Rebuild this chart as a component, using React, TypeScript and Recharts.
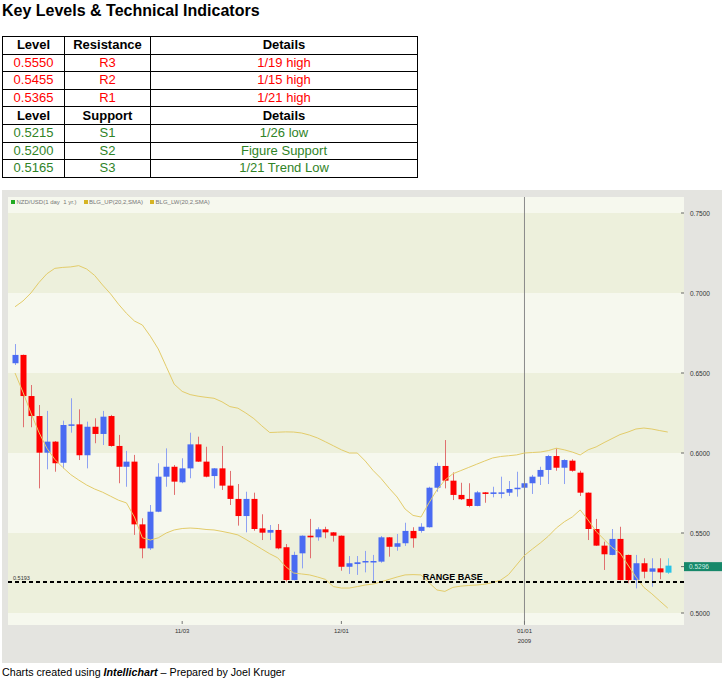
import React from 'react';
import { ComposedChart, Bar, Line, XAxis, YAxis, ReferenceArea, ReferenceLine, ReferenceDot } from 'recharts';

// ---- Key levels table ----
const resLevels = ['0.5550', '0.5455', '0.5365'];
const resNames = ['R3', 'R2', 'R1'];
const resDetails = ['1/19 high', '1/15 high', '1/21 high'];
const supLevels = ['0.5215', '0.5200', '0.5165'];
const supNames = ['S1', 'S2', 'S3'];
const supDetails = ['1/26 low', 'Figure Support', '1/21 Trend Low'];

// ---- NZD/USD daily candles ----
const openP = [
  0.6561, 0.6613, 0.6356, 0.6231, 0.6002, 0.6071, 0.5939, 0.6171, 0.6179, 0.5986,
  0.6164, 0.6119, 0.6231, 0.6044, 0.5914, 0.5946, 0.5554, 0.5404, 0.5633, 0.5852,
  0.5914, 0.5817, 0.5904, 0.6054, 0.5946, 0.5856, 0.5904, 0.5796, 0.5713, 0.5606,
  0.5713, 0.5529, 0.5502, 0.5519, 0.5411, 0.5206, 0.5373, 0.5483, 0.5473, 0.5523,
  0.5504, 0.5483, 0.5289, 0.5306, 0.5317, 0.5317, 0.5321, 0.5473, 0.5414, 0.5436,
  0.5513, 0.5513, 0.5536, 0.5783, 0.5919, 0.5827, 0.5738, 0.5713, 0.5669, 0.5754,
  0.5744, 0.5748, 0.5752, 0.5775, 0.5783, 0.5811, 0.5852, 0.5894, 0.5981, 0.5908,
  0.5952, 0.5877, 0.5752, 0.5525, 0.5421, 0.5363, 0.5463, 0.5363, 0.5206, 0.5311,
  0.5258, 0.5279, 0.5252,
];
const highP = [
  0.6681, 0.6615, 0.6425, 0.6300, 0.6263, 0.6075, 0.6202, 0.6342, 0.6273, 0.6196,
  0.6217, 0.6263, 0.6238, 0.6113, 0.6013, 0.5988, 0.5592, 0.5675, 0.5936, 0.6029,
  0.5925, 0.5967, 0.6127, 0.6102, 0.6039, 0.5906, 0.6044, 0.5888, 0.5806, 0.5758,
  0.5752, 0.5617, 0.5550, 0.5556, 0.5431, 0.5383, 0.5485, 0.5588, 0.5536, 0.5539,
  0.5506, 0.5485, 0.5356, 0.5356, 0.5388, 0.5363, 0.5481, 0.5475, 0.5494, 0.5564,
  0.5536, 0.5561, 0.5789, 0.5939, 0.6081, 0.5879, 0.5814, 0.5811, 0.5763, 0.5756,
  0.5789, 0.5852, 0.5825, 0.5883, 0.5873, 0.5863, 0.5914, 0.5988, 0.6029, 0.5961,
  0.5961, 0.5889, 0.5754, 0.5588, 0.5446, 0.5525, 0.5539, 0.5365, 0.5363, 0.5342,
  0.5342, 0.5342, 0.5342,
];
const lowP = [
  0.6550, 0.6161, 0.6161, 0.5779, 0.5898, 0.5883, 0.5904, 0.6127, 0.5956, 0.5904,
  0.6061, 0.6050, 0.6039, 0.5811, 0.5789, 0.5488, 0.5342, 0.5394, 0.5630, 0.5789,
  0.5738, 0.5811, 0.5842, 0.5944, 0.5848, 0.5779, 0.5769, 0.5675, 0.5546, 0.5504,
  0.5514, 0.5456, 0.5456, 0.5398, 0.5196, 0.5204, 0.5279, 0.5342, 0.5452, 0.5467,
  0.5446, 0.5264, 0.5244, 0.5238, 0.5254, 0.5196, 0.5314, 0.5352, 0.5389, 0.5419,
  0.5408, 0.5502, 0.5534, 0.5758, 0.5779, 0.5706, 0.5706, 0.5661, 0.5667, 0.5689,
  0.5723, 0.5717, 0.5731, 0.5727, 0.5748, 0.5744, 0.5800, 0.5806, 0.5889, 0.5806,
  0.5883, 0.5731, 0.5456, 0.5419, 0.5269, 0.5361, 0.5204, 0.5186, 0.5154, 0.5217,
  0.5164, 0.5211, 0.5244,
];
const closeP = [
  0.6613, 0.6356, 0.6231, 0.6002, 0.6071, 0.5936, 0.6175, 0.6179, 0.5986, 0.6164,
  0.6119, 0.6227, 0.6044, 0.5914, 0.5946, 0.5554, 0.5404, 0.5633, 0.5852, 0.5914,
  0.5821, 0.5904, 0.6054, 0.5946, 0.5852, 0.5904, 0.5796, 0.5713, 0.5606, 0.5713,
  0.5525, 0.5502, 0.5519, 0.5404, 0.5206, 0.5363, 0.5483, 0.5473, 0.5523, 0.5504,
  0.5483, 0.5289, 0.5311, 0.5317, 0.5325, 0.5325, 0.5473, 0.5414, 0.5436, 0.5513,
  0.5467, 0.5539, 0.5783, 0.5919, 0.5827, 0.5738, 0.5711, 0.5669, 0.5754, 0.5744,
  0.5754, 0.5754, 0.5775, 0.5783, 0.5811, 0.5852, 0.5894, 0.5981, 0.5908, 0.5956,
  0.5889, 0.5752, 0.5525, 0.5421, 0.5367, 0.5463, 0.5206, 0.5206, 0.5311, 0.5258,
  0.5279, 0.5254, 0.5296,
];

// ---- Bollinger bands (20,2,SMA) ----
const upperBand = [
  0.6914, 0.6950, 0.7000, 0.7065, 0.7120, 0.7154, 0.7160, 0.7163, 0.7171, 0.7150,
  0.7110, 0.7050, 0.6995, 0.6930, 0.6873, 0.6825, 0.6800, 0.6730, 0.6650, 0.6540,
  0.6430, 0.6385, 0.6365, 0.6355, 0.6348, 0.6342, 0.6320, 0.6290, 0.6280, 0.6250,
  0.6215, 0.6170, 0.6128, 0.6130, 0.6132, 0.6131, 0.6125, 0.6112, 0.6094, 0.6070,
  0.6045, 0.6020, 0.6000, 0.6000, 0.5950, 0.5890, 0.5840, 0.5780, 0.5725, 0.5650,
  0.5610, 0.5600, 0.5688, 0.5769, 0.5830, 0.5870, 0.5890, 0.5910, 0.5930, 0.5950,
  0.5969, 0.5978, 0.5983, 0.5988, 0.6000, 0.6003, 0.6006, 0.6015, 0.6030, 0.6020,
  0.6006, 0.5988, 0.6020, 0.6038, 0.6065, 0.6090, 0.6115, 0.6131, 0.6150, 0.6156,
  0.6150, 0.6140, 0.6131,
];
const lowerBand = [
  0.6500, 0.6380, 0.6250, 0.6130, 0.6030, 0.5960, 0.5910, 0.5865, 0.5831, 0.5800,
  0.5775, 0.5755, 0.5730, 0.5705, 0.5688, 0.5600, 0.5470, 0.5456, 0.5470, 0.5500,
  0.5519, 0.5528, 0.5531, 0.5528, 0.5522, 0.5519, 0.5510, 0.5500, 0.5488, 0.5460,
  0.5430, 0.5400, 0.5370, 0.5345, 0.5290, 0.5250, 0.5244, 0.5238, 0.5225, 0.5210,
  0.5165, 0.5156, 0.5156, 0.5165, 0.5175, 0.5181, 0.5195, 0.5210, 0.5225, 0.5238,
  0.5240, 0.5238, 0.5190, 0.5144, 0.5135, 0.5160, 0.5168, 0.5172, 0.5175, 0.5180,
  0.5190, 0.5205, 0.5240, 0.5300, 0.5360, 0.5400, 0.5438, 0.5480, 0.5531, 0.5570,
  0.5600, 0.5644, 0.5581, 0.5510, 0.5460, 0.5410, 0.5375, 0.5300, 0.5225, 0.5160,
  0.5120, 0.5075, 0.5031,
];

// ---- axes / annotations ----
const xTickIdx = [21, 41, 64];
const xTickLabels = ['11/03', '12/01', '01/01'];
const xTickYear = ['', '', '2009'];
const yTicks = [0.5, 0.55, 0.6, 0.65, 0.7, 0.75];
const shadedBands = [
  [0.7, 0.75],
  [0.6, 0.65],
  [0.5, 0.55],
];
const yDomain = [0.4925, 0.76];
const xDomain = [-0.88, 84.04];
const rangeBase = 0.5193;
const rangeBaseText = 'RANGE BASE';
const rangeBaseTextIdx = 55;
const lastPrice = 0.5296;
const yearLineIdx = 64;

const data = closeP.map((c, i) => ({
  idx: i,
  open: openP[i],
  high: highP[i],
  low: lowP[i],
  close: c,
  range: [lowP[i], highP[i]],
  upper: upperBand[i],
  lower: lowerBand[i],
}));
const lastIdx = data.length - 1;

const FONT = '"Liberation Sans", Arial, Helvetica, sans-serif';

const Candle = (props: any) => {
  const { x, y, width, height, payload } = props;
  if (!payload || x == null || y == null) return null;
  const { open, close, high, low, idx } = payload;
  const top = Math.min(y, y + height);
  const bottom = Math.max(y, y + height);
  const span = high - low;
  const ppu = span > 0 ? (bottom - top) / span : 0;
  const py = (v: number) => top + (high - v) * ppu;
  const cx = Math.round(x + width / 2) + 0.5;
  const up = close >= open;
  let body = up ? '#4a6bf2' : '#ff0000';
  let wick = up ? '#8ea2f2' : '#e07070';
  if (idx === lastIdx) {
    body = '#27c3e6';
    wick = '#6fd5ee';
  }
  const bTop = py(Math.max(open, close));
  const bBot = py(Math.min(open, close));
  return (
    <g>
      <line x1={cx} x2={cx} y1={top} y2={bottom} stroke={wick} strokeWidth={1} />
      <rect x={cx - 3} y={bTop} width={6} height={Math.max(1.5, bBot - bTop)} fill={body} />
    </g>
  );
};

const YTick = (props: any) => {
  const { x, y, payload } = props;
  return (
    <g>
      <line x1={x - 8} x2={x - 5} y1={y} y2={y} stroke="#666" strokeWidth={1} />
      <text x={x + 1} y={y} dy={2.5} fontSize={6.5} fill="#333" textAnchor="start" fontFamily={FONT}>
        {Number(payload.value).toFixed(4)}
      </text>
    </g>
  );
};

const XTick = (props: any) => {
  const { x, y, payload } = props;
  const k = xTickIdx.indexOf(payload.value);
  return (
    <g>
      <line x1={x} x2={x} y1={y - 6} y2={y - 3} stroke="#777" strokeWidth={1} />
      <text x={x} y={y + 6} fontSize={6} fill="#333" textAnchor="middle" fontFamily={FONT}>
        {xTickLabels[k]}
      </text>
      {xTickYear[k] ? (
        <text x={x} y={y + 16} fontSize={6} fill="#333" textAnchor="middle" fontFamily={FONT}>
          {xTickYear[k]}
        </text>
      ) : null}
    </g>
  );
};

const RangeBaseLabel = (props: any) => {
  const vb = props.viewBox || {};
  return (
    <text x={(vb.x || 0) + 5} y={(vb.y || 0) - 2} fontSize={5.5} fill="#333" fontFamily={FONT}>
      {rangeBase.toFixed(4)}
    </text>
  );
};

const RangeBaseText = (props: any) => {
  const vb = props.viewBox || {};
  const cx = (vb.x || 0) + (vb.width || 0) / 2;
  const cy = (vb.y || 0) + (vb.height || 0) / 2;
  return (
    <text x={cx} y={cy - 2} fontSize={9} fontWeight="bold" fill="#000" textAnchor="middle" fontFamily={FONT}>
      {rangeBaseText}
    </text>
  );
};

const PriceTag = (props: any) => {
  const vb = props.viewBox || {};
  const right = (vb.x || 0) + (vb.width || 0);
  const cy = (vb.y || 0) + 1;
  return (
    <g>
      <line x1={right - 3} x2={right} y1={cy} y2={cy} stroke="#666" />
      <rect x={right} y={cy - 4.5} width={38} height={9} fill="#17886a" />
      <text x={right + 5} y={cy + 2.5} fontSize={6.5} fill="#cfeee4" fontFamily={FONT}>
        {lastPrice.toFixed(4)}
      </text>
    </g>
  );
};

const legendItems = [
  { color: '#22aa22', text: 'NZD/USD(1 day  1 yr.)' },
  { color: '#d6b423', text: 'BLG_UP(20,2,SMA)' },
  { color: '#d6b423', text: 'BLG_LW(20,2,SMA)' },
];

const cellStyle: React.CSSProperties = {
  border: '1px solid #000',
  padding: 0,
  textAlign: 'center',
  height: 16.6,
  lineHeight: '16px',
};

export default function App() {
  return (
    <div style={{ position: 'absolute', left: 0, top: 0, width: 722, height: 682, background: '#fff', fontFamily: FONT }}>
      <div style={{ position: 'absolute', left: 2, top: 2, fontSize: 16, lineHeight: '18px', fontWeight: 'bold', color: '#000' }}>
        Key Levels &amp; Technical Indicators
      </div>
      <table
        style={{
          position: 'absolute',
          left: 2,
          top: 36,
          width: 415,
          borderCollapse: 'collapse',
          fontSize: 13,
          fontFamily: FONT,
          tableLayout: 'fixed',
        }}
      >
        <colgroup>
          <col style={{ width: 62 }} />
          <col style={{ width: 86 }} />
          <col style={{ width: 267 }} />
        </colgroup>
        <tbody>
          <tr style={{ fontWeight: 'bold' }}>
            <td style={cellStyle}>Level</td>
            <td style={cellStyle}>Resistance</td>
            <td style={cellStyle}>Details</td>
          </tr>
          {resLevels.map((lv, i) => (
            <tr key={'r' + i} style={{ color: '#ff0000' }}>
              <td style={cellStyle}>{lv}</td>
              <td style={cellStyle}>{resNames[i]}</td>
              <td style={cellStyle}>{resDetails[i]}</td>
            </tr>
          ))}
          <tr style={{ fontWeight: 'bold' }}>
            <td style={cellStyle}>Level</td>
            <td style={cellStyle}>Support</td>
            <td style={cellStyle}>Details</td>
          </tr>
          {supLevels.map((lv, i) => (
            <tr key={'s' + i} style={{ color: '#2f8327' }}>
              <td style={cellStyle}>{lv}</td>
              <td style={cellStyle}>{supNames[i]}</td>
              <td style={cellStyle}>{supDetails[i]}</td>
            </tr>
          ))}
        </tbody>
      </table>

      <div style={{ position: 'absolute', left: 2, top: 190, width: 720, height: 473, background: '#e4e4e0' }} />

      <div style={{ position: 'absolute', left: 0, top: 0 }}>
        <ComposedChart width={722} height={682} data={data} margin={{ top: 197, right: 0, bottom: 37, left: 8 }}>
          <XAxis
            dataKey="idx"
            type="number"
            domain={xDomain}
            allowDataOverflow
            ticks={xTickIdx}
            interval={0}
            tick={<XTick />}
            tickLine={false}
            axisLine={false}
            tickSize={0}
            tickMargin={2}
            height={20}
          />
          <YAxis
            orientation="right"
            type="number"
            domain={yDomain}
            allowDataOverflow
            ticks={yTicks}
            interval={0}
            tick={<YTick />}
            tickLine={false}
            axisLine={false}
            tickSize={0}
            tickMargin={5}
            width={38}
          />
          <ReferenceArea y1={yDomain[0]} y2={yDomain[1]} fill="#f6f8ee" fillOpacity={1} stroke="none" />
          {shadedBands.map((b, i) => (
            <ReferenceArea key={i} y1={b[0]} y2={b[1]} fill="#edf0dc" fillOpacity={1} stroke="none" />
          ))}
          <ReferenceLine x={yearLineIdx} stroke="#8a8a8a" strokeWidth={1} />
          <Line dataKey="upper" type="linear" stroke="#e3cc6a" strokeWidth={1} dot={false} isAnimationActive={false} />
          <Line dataKey="lower" type="linear" stroke="#e3cc6a" strokeWidth={1} dot={false} isAnimationActive={false} />
          <Bar dataKey="range" barSize={6} shape={<Candle />} isAnimationActive={false} />
          <ReferenceLine
            y={rangeBase}
            stroke="#000"
            strokeWidth={2}
            strokeDasharray="4 3"
            label={(p: any) => <RangeBaseLabel {...p} />}
          />
          <ReferenceDot
            x={rangeBaseTextIdx}
            y={rangeBase}
            r={0}
            fill="none"
            stroke="none"
            label={(p: any) => <RangeBaseText {...p} />}
          />
          <ReferenceLine y={lastPrice} stroke="none" label={(p: any) => <PriceTag {...p} />} />
        </ComposedChart>
      </div>

      <div style={{ position: 'absolute', left: 11, top: 198, display: 'flex', alignItems: 'center', fontSize: 6, color: '#777', lineHeight: '8px', whiteSpace: 'pre' }}>
        {legendItems.map((it, i) => (
          <span key={i} style={{ display: 'flex', alignItems: 'center', marginRight: 7 }}>
            <span style={{ display: 'inline-block', width: 4, height: 4, background: it.color, marginRight: 1.5 }} />
            <span>{it.text}</span>
          </span>
        ))}
      </div>

      <div style={{ position: 'absolute', left: 2, top: 666, fontSize: 10.7, lineHeight: '12px', color: '#000', whiteSpace: 'nowrap' }}>
        Charts created using <b><i>Intellichart</i></b> – Prepared by Joel Kruger
      </div>
    </div>
  );
}
